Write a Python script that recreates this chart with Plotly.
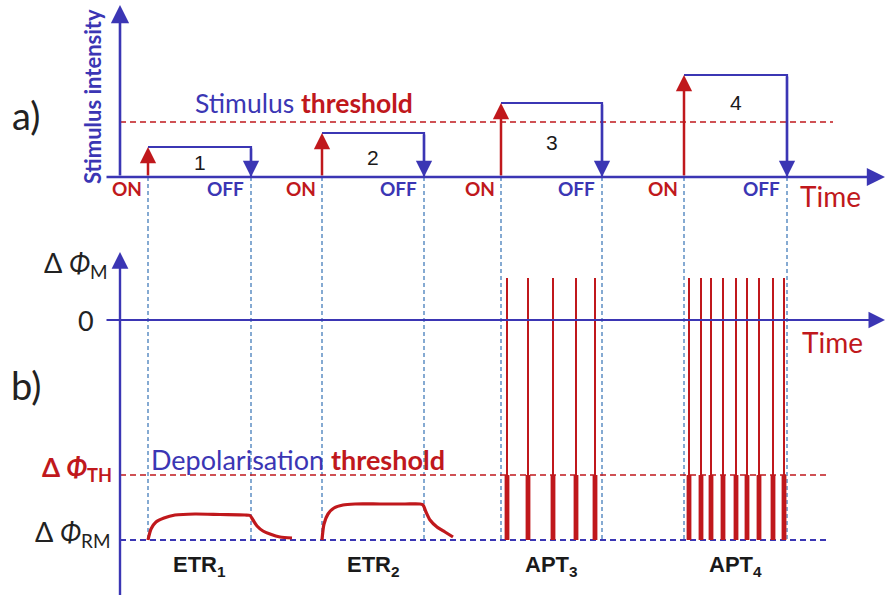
import plotly.graph_objects as go

# ---- stimulus protocol (panel a) ----
ON_TIMES = [2.8, 20.2, 38.1, 56.4]
OFF_TIMES = [13.1, 30.4, 48.2, 66.7]
INTENSITY = [3.0, 4.4, 7.4, 10.2]
STIM_THRESHOLD = 5.5
STIM_IDS = ["1", "2", "3", "4"]
STIM_ID_Y = [1.5, 2.0, 3.5, 7.5]

# ---- membrane response (panel b) ----
PHI_RM = -22.0
PHI_TH = -15.5
SPIKE_PEAK = 4.2
ETR1_T = [2.8, 3.1, 3.6, 4.4, 5.5, 7.5, 10.0, 12.5, 13.0, 13.3, 13.7, 14.3, 15.0, 16.0, 17.2]
ETR1_V = [-22.0, -20.9, -20.2, -19.8, -19.5, -19.4, -19.45, -19.5, -19.55, -20.0, -20.6, -21.1, -21.4, -21.7, -21.8]
ETR2_T = [20.2, 20.4, 20.8, 21.4, 22.3, 23.5, 26.0, 28.5, 30.0, 30.3, 30.6, 31.0, 31.7, 32.5, 33.3]
ETR2_V = [-22.0, -20.4, -19.4, -18.8, -18.5, -18.4, -18.4, -18.4, -18.4, -18.5, -19.2, -20.0, -20.7, -21.2, -21.7]
APT3_SPIKES = [38.7, 40.8, 43.3, 45.6, 47.5]
APT4_SPIKES = [56.9, 58.1, 59.1, 60.3, 61.6, 62.7, 63.9, 65.3, 66.4]
RESPONSE_LABELS = ["ETR<sub>1</sub>", "ETR<sub>2</sub>", "APT<sub>3</sub>", "APT<sub>4</sub>"]

T_MIN, T_AXIS_START, T_END, T_DASH_END = -12.0, -1.5, 76.5, 71.0
TOP_RANGE = [-5.3, 17.7]
BOT_RANGE = [-27.5, 9.0]
TOP_AXIS_TIP = 17.2
BOT_AXIS_TIP = 6.8

BLUE = "#3b36b4"
RED = "#c0181c"
DASH_BLUE = "#5d8fc4"
LATO = "Lato"
ARIAL = "Liberation Sans"

fig = go.Figure()
ann = []


def arrow(x, y, ax, ay, color, yref="y", width=2.5, size=1.3):
    ann.append(dict(x=x, y=y, ax=ax, ay=ay, xref="x", yref=yref, axref="x", ayref=yref,
                    text="", showarrow=True, arrowhead=2, arrowsize=size,
                    arrowwidth=width, arrowcolor=color, standoff=0))


def line(xs, ys, color, width, yaxis="y", dash=None, shape="linear"):
    ln = dict(color=color, width=width, dash=dash, shape=shape)
    if shape == "spline":
        ln["smoothing"] = 0.7
    fig.add_trace(go.Scatter(x=xs, y=ys, mode="lines", yaxis=yaxis, hoverinfo="skip", line=ln))


# dashed guides linking stimulus ON/OFF to the response panel
for t in ON_TIMES + OFF_TIMES:
    line([t, t], [0, TOP_RANGE[0] - 1], DASH_BLUE, 1.5, dash="4px,3px")
    line([t, t], [BOT_RANGE[1] + 1, PHI_RM], DASH_BLUE, 1.5, yaxis="y2", dash="4px,3px")

# ---- panel a ----
line([0, T_DASH_END + 0.3], [STIM_THRESHOLD, STIM_THRESHOLD], RED, 1.6, dash="6px,4px")
for on, off, inten in zip(ON_TIMES, OFF_TIMES, INTENSITY):
    line([on, off, off], [inten, inten, 0], BLUE, 2.2)
    arrow(off, 0, off, inten, BLUE)
    arrow(on, inten, on, 0, RED)
arrow(T_END, 0, T_AXIS_START, 0, BLUE, width=2.6, size=1.4)
arrow(0, TOP_AXIS_TIP, 0, 0, BLUE, width=2.6, size=1.4)

for on, off, sid, sy in zip(ON_TIMES, OFF_TIMES, STIM_IDS, STIM_ID_Y):
    ann.append(dict(x=(on + off) / 2, y=sy, xref="x", yref="y", text=sid, showarrow=False,
                    font=dict(family=ARIAL, size=21, color="#1a1a1a")))
    ann.append(dict(x=on - 0.4, y=-1.1, xref="x", yref="y", text="<b>ON</b>", showarrow=False,
                    xanchor="right", font=dict(family=LATO, size=19, color=RED)))
    ann.append(dict(x=off - 0.5, y=-1.1, xref="x", yref="y", text="<b>OFF</b>", showarrow=False,
                    xanchor="right", font=dict(family=LATO, size=19, color=BLUE)))

ann.append(dict(x=7.3, y=7.4, xref="x", yref="y", xanchor="left", showarrow=False,
                text="Stimulus <b><span style='color:%s'>threshold</span></b>" % RED,
                font=dict(family=LATO, size=26.5, color=BLUE)))
ann.append(dict(x=-2.8, y=8.0, xref="x", yref="y", textangle=-90, showarrow=False,
                text="<b>Stimulus intensity</b>", font=dict(family=LATO, size=22, color=BLUE)))
ann.append(dict(x=67.8, y=-1.9, xref="x", yref="y", xanchor="left", showarrow=False,
                text="Time", font=dict(family=LATO, size=28, color=RED)))
ann.append(dict(x=-9.4, y=6.2, xref="x", yref="y", showarrow=False,
                text="a)", font=dict(family=LATO, size=38, color="#222222")))

# ---- panel b ----
line([0, T_DASH_END], [PHI_TH, PHI_TH], RED, 1.6, yaxis="y2", dash="6px,4px")
line([0, T_DASH_END], [PHI_RM, PHI_RM], BLUE, 1.8, yaxis="y2", dash="6px,4px")
line(ETR1_T, ETR1_V, RED, 3.2, yaxis="y2", shape="spline")
line(ETR2_T, ETR2_V, RED, 3.2, yaxis="y2", shape="spline")

spikes = APT3_SPIKES + APT4_SPIKES
thin_x, thin_y, thick_x, thick_y = [], [], [], []
for s in spikes:
    thin_x += [s, s, None]
    thin_y += [PHI_TH, SPIKE_PEAK, None]
    thick_x += [s, s, None]
    thick_y += [PHI_RM, PHI_TH, None]
line(thin_x, thin_y, RED, 2.0, yaxis="y2")
line(thick_x, thick_y, RED, 4.8, yaxis="y2")

arrow(T_END, 0, T_AXIS_START, 0, BLUE, yref="y2", width=2.2, size=1.5)
arrow(0, BOT_AXIS_TIP, 0, BOT_RANGE[0] - 1, BLUE, yref="y2", width=2.4, size=1.4)

for on, off, lab in zip(ON_TIMES, OFF_TIMES, RESPONSE_LABELS):
    ann.append(dict(x=(on + off) / 2, y=-24.6, xref="x", yref="y2", showarrow=False,
                    text="<b>%s</b>" % lab, font=dict(family=ARIAL, size=22, color="#1a1a1a")))

ann.append(dict(x=2.9, y=-13.9, xref="x", yref="y2", xanchor="left", showarrow=False,
                text="Depolarisation <b><span style='color:%s'>threshold</span></b>" % RED,
                font=dict(family=LATO, size=27, color=BLUE)))
ann.append(dict(x=68.0, y=-2.2, xref="x", yref="y2", xanchor="left", showarrow=False,
                text="Time", font=dict(family=LATO, size=28, color=RED)))
ann.append(dict(x=-9.4, y=-6.5, xref="x", yref="y2", showarrow=False,
                text="b)", font=dict(family=LATO, size=38, color="#222222")))
ann.append(dict(x=-1.0, y=5.6, xref="x", yref="y2", xanchor="right", showarrow=False,
                text="Δ <i>Φ</i><sub>M</sub>", font=dict(family=LATO, size=27, color="#222222")))
ann.append(dict(x=-2.4, y=0, xref="x", yref="y2", xanchor="right", showarrow=False,
                text="0", font=dict(family=LATO, size=27, color="#222222")))
ann.append(dict(x=-0.6, y=PHI_TH + 0.7, xref="x", yref="y2", xanchor="right", showarrow=False,
                text="<b>Δ <i>Φ</i><sub>TH</sub></b>", font=dict(family=LATO, size=26, color=RED)))
ann.append(dict(x=-0.8, y=PHI_RM + 0.7, xref="x", yref="y2", xanchor="right", showarrow=False,
                text="Δ <i>Φ</i><sub>RM</sub>", font=dict(family=LATO, size=27, color="#222222")))

fig.update_layout(
    width=886, height=595, margin=dict(l=0, r=0, t=0, b=0),
    paper_bgcolor="white", plot_bgcolor="white", showlegend=False,
    xaxis=dict(range=[T_MIN, T_MIN + 88.6], domain=[0, 1], visible=False, fixedrange=True),
    yaxis=dict(range=TOP_RANGE, domain=[1 - 230 / 595, 1], visible=False, fixedrange=True),
    yaxis2=dict(range=BOT_RANGE, domain=[0, 365 / 595], visible=False, fixedrange=True, anchor="x"),
    annotations=ann,
)

fig.write_html("out.html", config={"displayModeBar": False})
